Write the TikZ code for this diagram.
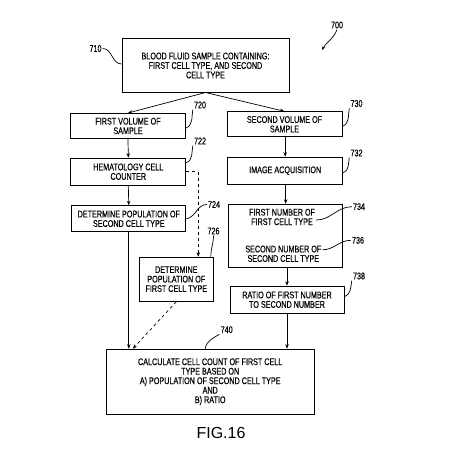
\documentclass[tikz,border=0pt]{standalone}
\usepackage{fontspec}
\setmainfont{Liberation Sans}[FakeStretch=0.75, FakeBold=0.4]
\newfontfamily\figfont{Liberation Sans}
\usetikzlibrary{arrows.meta}
\begin{document}
\begin{tikzpicture}[x=1pt, y=1pt,
box/.style={draw, line width=1pt, align=center, inner sep=1pt, font=\fontsize{9.6}{9.5}\selectfont},
txt/.style={align=center, inner sep=1pt, font=\fontsize{9.6}{9.5}\selectfont},
num/.style={inner sep=1pt, font=\fontsize{9.6}{9}\selectfont},
lead/.style={line width=0.7pt},
flow/.style={line width=0.7pt, -{Stealth[length=4.5pt, width=3.5pt]}},
flowdash/.style={flow, dashed}]
\useasboundingbox (0,0) rectangle (448,-452);
\node[box, minimum width=167pt, minimum height=53pt] (n710) at (205.5,-65.5){BLOOD FLUID SAMPLE CONTAINING:\\FIRST CELL TYPE, AND SECOND\\CELL TYPE};
\node[box, minimum width=115pt, minimum height=25pt] (n720) at (128,-126){FIRST VOLUME OF\\SAMPLE};
\node[box, minimum width=115pt, minimum height=25pt] (n730) at (284.5,-124.3){SECOND VOLUME OF\\SAMPLE};
\node[box, minimum width=115pt, minimum height=27pt] (n722) at (128.3,-171.7){HEMATOLOGY CELL\\COUNTER};
\node[box, minimum width=115pt, minimum height=27pt] (n732) at (285.2,-170.7){IMAGE ACQUISITION};
\node[box, minimum width=114pt, minimum height=26pt] (n724) at (128.8,-218.8){DETERMINE POPULATION OF\\SECOND CELL TYPE};
\node[box, minimum width=114pt, minimum height=63pt] (n734) at (285.7,-235.8){};
\node[txt] (t734) at (282,-217){FIRST NUMBER OF\\FIRST CELL TYPE};
\node[txt] (t736) at (283.3,-253.8){SECOND NUMBER OF\\SECOND CELL TYPE};
\node[box, minimum width=74pt, minimum height=44pt] (n726) at (176.3,-279.2){DETERMINE\\POPULATION OF\\FIRST CELL TYPE};
\node[box, minimum width=114pt, minimum height=27pt] (n738) at (287,-299.7){RATIO OF FIRST NUMBER\\TO SECOND NUMBER};
\node[box, minimum width=208pt, minimum height=65pt] (n740) at (210.2,-381.7){CALCULATE CELL COUNT OF FIRST CELL\\TYPE BASED ON\\A) POPULATION OF SECOND CELL TYPE\\AND\\B) RATIO};
\node[font=\figfont\fontsize{16}{16}\selectfont] (fig) at (221,-433){FIG.16};
\node[num] (l700) at (337,-25){700};
\node[num] (l710) at (95.5,-48.5){710};
\node[num] (l720) at (200,-105){720};
\node[num] (l730) at (356.5,-103.5){730};
\node[num] (l722) at (200,-141){722};
\node[num] (l732) at (356.5,-153){732};
\node[num] (l724) at (214,-204.5){724};
\node[num] (l726) at (213.5,-231){726};
\node[num] (l734) at (359,-206.7){734};
\node[num] (l736) at (358,-240.3){736};
\node[num] (l738) at (359,-276){738};
\node[num] (l740) at (226.7,-329.7){740};
\coordinate (c700) at (322,-50);
\draw[flow](n710.south) -- (n720.north);
\draw[flow](n710.south) -- (n730.north);
\draw[flow](n720.south) -- (n722.north);
\draw[flow](n730.south -| n732.north) -- (n732.north);
\draw[flow](n722.south) -- (n724.north);
\draw[flow](n732.south -| n734.north) -- (n734.north);
\draw[flow](n734.south -| n738.north) -- (n738.north);
\draw[flow](n724.south) -- (n724.south |- n740.north);
\draw[flow](n738.south) -- (n738.south |- n740.north);
\draw[flowdash](n722.east) -| ([xshift=22pt]n726.north);
\draw[flowdash](n726.south) -- ([xshift=4pt]n724.south |- n740.north);
\draw[lead, -{Stealth[length=4pt, width=3pt]}](l700.south) to[out=-110, in=60] (c700);
\draw[lead](l710.east) to[out=0, in=180] ([yshift=1.5pt]n710.west);
\draw[lead](l720.south west) to[out=-100, in=20] ([yshift=-2pt]n720.east);
\draw[lead](l730.south west) to[out=-100, in=20] ([yshift=-2pt]n730.east);
\draw[lead](l722.south west) to[out=-100, in=20] ([yshift=-5pt]n722.north east);
\draw[lead](l732.south west) to[out=-100, in=20] ([yshift=-2pt]n732.east);
\draw[lead](l724.west) to[out=180, in=10] (n724.east);
\draw[lead](l726.south) to[out=-90, in=90] ([xshift=-3pt]n726.north east);
\draw[lead](l734.west) to[out=180, in=0] ([yshift=-3pt]t734.east);
\draw[lead](l736.west) to[out=180, in=0] ([yshift=4pt]t736.east);
\draw[lead](l738.south west) to[out=-100, in=20] ([yshift=3pt]n738.east);
\draw[lead](l740.south west) to[out=-150, in=80] ([xshift=-5pt]n740.north);
\end{tikzpicture}
\end{document}
